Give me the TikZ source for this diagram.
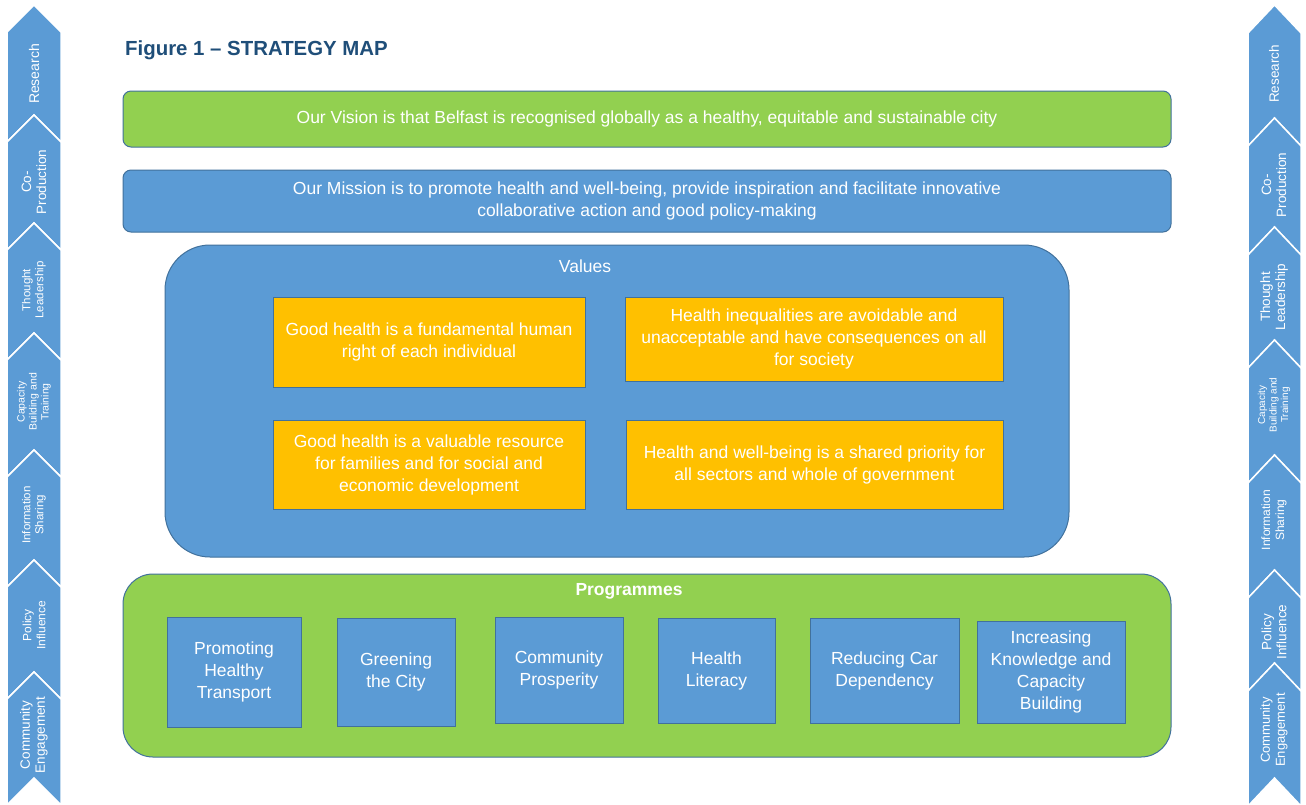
\documentclass[tikz,border=0pt]{standalone}
\usepackage{fontspec}
\setmainfont{Liberation Sans}
\definecolor{cgreen}{HTML}{92D050}
\definecolor{cblue}{HTML}{5B9BD5}
\definecolor{corange}{HTML}{FFC000}
\definecolor{cedge}{HTML}{41719C}
\definecolor{ctitle}{HTML}{1F4E79}

% upward chevron: centre x, half width, top tip y, bottom notch y, depth
\newcommand\chevshape[5]{%
  \filldraw[chev] (#1,#3) -- ({#1+#2},{#3+#5}) -- ({#1+#2},{#4+#5})
    -- (#1,#4) -- ({#1-#2},{#4+#5}) -- ({#1-#2},{#3+#5}) -- cycle;}

\begin{document}
\begin{tikzpicture}[x=1pt,y=-1pt,
  chev/.style={fill=cblue,draw=white,line width=1.5pt,line join=miter},
  chevtext/.style={text=white,rotate=90,align=center,inner sep=0pt},
  band/.style={draw=cedge,line width=1pt,text=white,align=center,inner sep=0pt,
    font=\fontsize{17.5}{22}\selectfont},
  valbox/.style={fill=corange,draw=cedge,line width=0.8pt,text=white,align=center,
    inner sep=0pt,font=\fontsize{17.5}{22}\selectfont},
  progbox/.style={fill=cblue,draw=cedge,line width=1pt,text=white,align=center,
    inner sep=0pt,font=\fontsize{17.5}{22}\selectfont},
  label/.style={text=white,inner sep=0pt,font=\fontsize{17.5}{22}\selectfont}]

\useasboundingbox[fill=white] (0,0) rectangle (1306,804);

% ---- left column of chevrons ----
\chevshape{34}{27}{5}{115}{27}
\chevshape{34}{27}{115}{223}{27}
\chevshape{34}{27}{223}{333}{27}
\chevshape{34}{27}{333}{450}{27}
\chevshape{34}{27}{450}{560}{27}
\chevshape{34}{27}{560}{672}{27}
\chevshape{34}{27}{672}{778}{27}

\node[chevtext,font=\fontsize{14}{16}\selectfont] (l1) at (34,74) {Research};
\node[chevtext,font=\fontsize{13.5}{15}\selectfont] (l2) at (34,182) {Co-\\Production};
\node[chevtext,font=\fontsize{11.5}{13}\selectfont] (l3) at (34,290) {Thought\\Leadership};
\node[chevtext,font=\fontsize{10.5}{12}\selectfont] (l4) at (34,402) {Capacity\\Building and\\Training};
\node[chevtext,font=\fontsize{11.5}{13}\selectfont] (l5) at (34,515) {Information\\Sharing};
\node[chevtext,font=\fontsize{12}{14}\selectfont] (l6) at (34,625) {Policy\\Influence};
\node[chevtext,font=\fontsize{13.5}{15}\selectfont] (l7) at (34,735) {Community\\Engagement};

% ---- right column of chevrons ----
\chevshape{1274.5}{26.5}{5}{118}{28}
\chevshape{1274.5}{26.5}{118}{227}{28}
\chevshape{1274.5}{26.5}{227}{340}{28}
\chevshape{1274.5}{26.5}{340}{455}{28}
\chevshape{1274.5}{26.5}{455}{570}{28}
\chevshape{1274.5}{26.5}{570}{663}{28}
\chevshape{1274.5}{26.5}{663}{778}{28}

\node[chevtext,font=\fontsize{13.5}{15}\selectfont] (r1) at (1274,74) {Research};
\node[chevtext,font=\fontsize{13.5}{15}\selectfont] (r2) at (1274,185) {Co-\\Production};
\node[chevtext,font=\fontsize{13.5}{15}\selectfont] (r3) at (1274,297) {Thought\\Leadership};
\node[chevtext,font=\fontsize{10}{11.5}\selectfont] (r4) at (1274,405) {Capacity\\Building and\\Training};
\node[chevtext,font=\fontsize{12}{14}\selectfont] (r5) at (1274,520) {Information\\Sharing};
\node[chevtext,font=\fontsize{13.5}{15}\selectfont] (r6) at (1274,632) {Policy\\Influence};
\node[chevtext,font=\fontsize{13}{15}\selectfont] (r7) at (1274,730) {Community\\Engagement};

% ---- title ----
\node[anchor=west,text=ctitle,inner sep=0pt,font=\fontsize{20.4}{24}\selectfont\bfseries]
  (title) at (125,50) {Figure 1 – STRATEGY MAP};

% ---- vision and mission ----
\node[band,fill=cgreen,rounded corners=8pt,minimum width=1048pt,minimum height=56pt]
  (vision) at (647,119) {Our Vision is that Belfast is recognised globally as a healthy, equitable and sustainable city};
\node[band,fill=cblue,rounded corners=8pt,minimum width=1048pt,minimum height=62pt]
  (mission) at (647,201) {Our Mission is to promote health and well-being, provide inspiration and facilitate innovative\\collaborative action and good policy-making};

% ---- values ----
\node[band,fill=cblue,rounded corners=45pt,minimum width=904pt,minimum height=312pt]
  (values) at (617,401) {};
\node[label] (valtitle) at (585,266) {Values};
\node[valbox,minimum width=312pt,minimum height=90pt] (v1) at (429,342)
  {Good health is a fundamental human\\right of each individual};
\node[valbox,minimum width=378pt,minimum height=84pt] (v2) at (814,339)
  {Health inequalities are avoidable and\\unacceptable and have consequences on all\\for society};
\node[valbox,minimum width=312pt,minimum height=89pt] (v3) at (429,464.5)
  {Good health is a valuable resource\\for families and for social and\\economic development};
\node[valbox,minimum width=377pt,minimum height=89pt] (v4) at (814.5,464.5)
  {Health and well-being is a shared priority for\\all sectors and whole of government};

% ---- programmes ----
\node[band,fill=cgreen,rounded corners=30pt,minimum width=1048pt,minimum height=183pt]
  (programmes) at (647,665.5) {};
\node[label,font=\fontsize{17.5}{22}\selectfont\bfseries] (progtitle) at (629,591) {Programmes};
\node[progbox,minimum width=134pt,minimum height=110pt] (p1) at (234,672)
  {Promoting\\Healthy\\Transport};
\node[progbox,minimum width=118pt,minimum height=108pt] (p2) at (396,672)
  {Greening\\the City};
\node[progbox,minimum width=128pt,minimum height=106pt] (p3) at (559,670)
  {Community\\Prosperity};
\node[progbox,minimum width=117pt,minimum height=105pt] (p4) at (716.5,670.5)
  {Health\\Literacy};
\node[progbox,minimum width=149pt,minimum height=105pt] (p5) at (884.5,670.5)
  {Reducing Car\\Dependency};
\node[progbox,minimum width=148pt,minimum height=102pt] (p6) at (1051,672)
  {Increasing\\Knowledge and\\Capacity\\Building};
\end{tikzpicture}
\end{document}
